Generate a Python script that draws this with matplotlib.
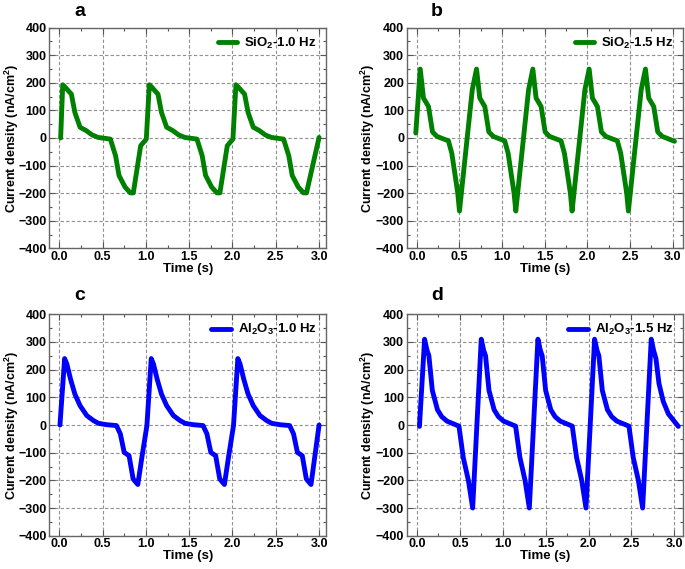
import matplotlib
matplotlib.use("Agg")
import matplotlib.pyplot as plt
from matplotlib.ticker import MultipleLocator

plt.rcParams['font.family'] = ['Liberation Sans', 'DejaVu Sans']
plt.rcParams['font.weight'] = 'bold'
plt.rcParams['mathtext.fontset'] = 'custom'
plt.rcParams['mathtext.rm'] = 'Liberation Sans:bold'
plt.rcParams['mathtext.bf'] = 'Liberation Sans:bold'
plt.rcParams['mathtext.it'] = 'Liberation Sans:bold'

# ---- data ----
a_t = [0.016, 0.04, 0.066, 0.14, 0.18, 0.24, 0.31, 0.38, 0.45, 0.59, 0.65, 0.69, 0.76, 0.82, 0.855, 0.94, 1.005,
       1.04, 1.066, 1.14, 1.18, 1.24, 1.31, 1.38, 1.45, 1.59, 1.65, 1.69, 1.76, 1.82, 1.855, 1.94, 2.005,
       2.04, 2.066, 2.14, 2.18, 2.24, 2.31, 2.38, 2.45, 2.59, 2.65, 2.69, 2.76, 2.82, 2.855, 3.0]
a_j = [0, 193, 185, 159, 93, 39, 27, 11, 2, -4, -64, -136, -178, -199, -199, -28, -4,
       193, 185, 159, 93, 39, 27, 11, 2, -4, -64, -136, -178, -199, -199, -28, -4,
       193, 185, 159, 93, 39, 27, 11, 2, -4, -64, -136, -178, -199, -199, 2]

b_t = [-0.012, 0.04, 0.078, 0.137, 0.184, 0.235, 0.30, 0.37, 0.41, 0.48, 0.50, 0.65,
       0.70, 0.738, 0.797, 0.844, 0.895, 0.96, 1.03, 1.07, 1.14, 1.16, 1.31,
       1.36, 1.398, 1.457, 1.504, 1.555, 1.62, 1.69, 1.73, 1.80, 1.82, 1.97,
       2.02, 2.058, 2.117, 2.164, 2.215, 2.28, 2.35, 2.39, 2.46, 2.48, 2.63,
       2.68, 2.718, 2.777, 2.824, 2.875, 2.94, 3.02]
b_j = [18, 250, 145, 114, 22, 6, -2, -10, -55, -200, -265, 175,
       250, 145, 114, 22, 6, -2, -10, -55, -200, -265, 175,
       250, 145, 114, 22, 6, -2, -10, -55, -200, -265, 175,
       250, 145, 114, 22, 6, -2, -10, -55, -200, -265, 175,
       250, 145, 114, 22, 6, -2, -12]

c_t = [0.008, 0.062, 0.088, 0.13, 0.18, 0.24, 0.318, 0.395, 0.453, 0.55, 0.66, 0.705, 0.75, 0.806, 0.853, 0.907, 0.957, 1.012,
       1.062, 1.088, 1.13, 1.18, 1.24, 1.318, 1.395, 1.453, 1.55, 1.66, 1.705, 1.75, 1.806, 1.853, 1.907, 1.957, 2.012,
       2.062, 2.088, 2.13, 2.18, 2.24, 2.318, 2.395, 2.453, 2.55, 2.66, 2.705, 2.75, 2.806, 2.853, 2.907, 3.0]
c_j = [0, 240, 220, 166, 112, 70, 34, 16, 6, 1, -2, -32, -99, -111, -195, -215, -111, -2,
       240, 220, 166, 112, 70, 34, 16, 6, 1, -2, -32, -99, -111, -195, -215, -111, -2,
       240, 220, 166, 112, 70, 34, 16, 6, 1, -2, -32, -99, -111, -195, -215, 0]

d_t = [0.03, 0.09, 0.118, 0.14, 0.18, 0.24, 0.29, 0.35, 0.49, 0.54, 0.60, 0.65,
       0.75, 0.778, 0.80, 0.84, 0.90, 0.95, 1.01, 1.15, 1.20, 1.26, 1.31,
       1.41, 1.438, 1.46, 1.50, 1.56, 1.61, 1.67, 1.81, 1.86, 1.92, 1.97,
       2.07, 2.098, 2.12, 2.16, 2.22, 2.27, 2.33, 2.47, 2.52, 2.58, 2.63,
       2.73, 2.758, 2.785, 2.82, 2.87, 2.93, 3.045]
d_j = [-5, 310, 270, 250, 125, 55, 30, 14, -4, -117, -200, -300,
       310, 270, 250, 125, 55, 30, 14, -4, -117, -200, -300,
       310, 270, 250, 125, 55, 30, 14, -4, -117, -200, -300,
       310, 270, 250, 125, 55, 30, 14, -4, -117, -200, -300,
       310, 269, 240, 150, 85, 40, -5]

labels = [r'SiO$_{2}$-1.0 Hz', r'SiO$_{2}$-1.5 Hz', r'Al$_{2}$O$_{3}$-1.0 Hz', r'Al$_{2}$O$_{3}$-1.5 Hz']
letters = ['a', 'b', 'c', 'd']
colors = ['#008000', '#008000', '#0000FF', '#0000FF']
series = [(a_t, a_j), (b_t, b_j), (c_t, c_j), (d_t, d_j)]
xlims = [(-0.115, 3.08), (-0.115, 3.12), (-0.115, 3.08), (-0.115, 3.1)]

W, H = 685, 569
fig = plt.figure(figsize=(W / 100, H / 100), dpi=100)
boxes = [(49.3, 27.7, 326, 248.3), (407, 27.7, 683, 248.3),
         (49.3, 314.3, 326, 535.7), (407, 314.3, 683, 535.7)]
letter_pos = [(80, 12), (437, 12), (80, 296), (437, 296)]
ylab_x = [12, 368, 12, 368]

for i in range(4):
    x0, y0, x1, y1 = boxes[i]
    ax = fig.add_axes([x0 / W, 1 - y1 / H, (x1 - x0) / W, (y1 - y0) / H])
    t, j = series[i]
    ax.plot(t, j, color=colors[i], lw=3.5, label=labels[i],
            solid_joinstyle='round', solid_capstyle='round')
    ax.set_xlim(*xlims[i])
    ax.set_ylim(-400, 400)
    ax.xaxis.set_major_locator(MultipleLocator(0.5))
    ax.xaxis.set_minor_locator(MultipleLocator(0.25))
    ax.yaxis.set_major_locator(MultipleLocator(100))
    ax.yaxis.set_minor_locator(MultipleLocator(50))
    ax.xaxis.set_major_formatter(plt.FuncFormatter(lambda v, p: f"{v:.1f}"))
    ax.grid(True, which='major', ls=(0, (3, 2)), color='#909090', lw=0.8)
    ax.tick_params(which='both', direction='in', top=True, right=True,
                   labelsize=9, pad=2, color='#555555')
    ax.tick_params(which='major', length=4, width=0.8)
    ax.tick_params(which='minor', length=2, width=0.8)
    for lab in ax.get_xticklabels() + ax.get_yticklabels():
        lab.set_fontweight('bold')
    for s in ax.spines.values():
        s.set_color('#666666')
        s.set_linewidth(1.0)
    ax.set_xlabel('Time (s)', fontsize=9.5, fontweight='bold', labelpad=0)
    ax.set_ylabel('Current density (nA/cm$^{2}$)', fontsize=9, fontweight='bold', va='center')
    ax.yaxis.set_label_coords((ylab_x[i] - x0) / (x1 - x0), 0.5)
    leg = ax.legend(loc='upper right', frameon=False, fontsize=9.5, handlelength=1.5,
                    handletextpad=0.5, borderaxespad=0.2, bbox_to_anchor=(0.995, 1.0))
    for txt in leg.get_texts():
        txt.set_fontweight('bold')
    lx, ly = letter_pos[i]
    fig.text(lx / W, 1 - ly / H, letters[i], fontsize=14, fontweight='bold',
             ha='center', va='center')

fig.savefig('out.png', dpi=100)
